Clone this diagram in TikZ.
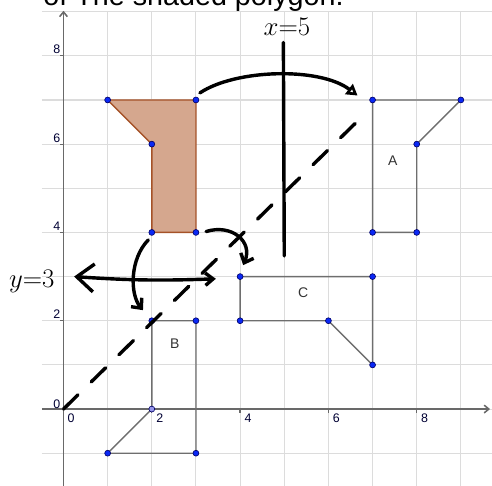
\documentclass[tikz,border=0pt]{standalone}
\usepackage{fontspec}
\setsansfont{Liberation Sans}
\usetikzlibrary{arrows.meta}
\definecolor{gridc}{RGB}{220,220,220}
\definecolor{axisc}{RGB}{105,105,105}
\definecolor{edge}{RGB}{110,110,110}
\definecolor{shadefill}{RGB}{213,167,142}
\definecolor{shadeedge}{RGB}{165,82,40}
\definecolor{dotc}{RGB}{10,40,245}
\definecolor{dotpale}{RGB}{150,150,235}
\definecolor{ink}{RGB}{0,0,0}

\begin{document}
\begin{tikzpicture}[font=\sffamily,
  pt/.style={circle, fill=dotc, draw=black!60!blue, line width=0.4pt, inner sep=0pt, minimum size=3.8pt},
  poly/.style={edge, line width=0.9pt, line join=round},
  hand/.style={ink, line width=2.2pt, line cap=round, line join=round},
  ticklab/.style={font=\sffamily\fontsize{8}{9}\selectfont, text=black!80!blue, inner sep=1pt},
  letter/.style={font=\sffamily\fontsize{9}{10}\selectfont, text=black!80}]
\useasboundingbox (-1.438,-1.721) rectangle (9.705,9.264);
\clip (-1.438,-1.721) rectangle (9.705,9.264);
% worksheet line, cut off at the top
\node[anchor=base west, inner sep=0pt, font=\sffamily\fontsize{18.5}{20}\selectfont] (title) at (-0.46,9.13) {of The shaded polygon.};
% grid
\foreach \x in {1,...,9} \draw[gridc, line width=0.7pt] (\x,-1.8) -- (\x,9);
\foreach \y in {-1,...,9} \draw[gridc, line width=0.7pt] (-0.49,\y) -- (9.8,\y);
% axes
\draw[axisc, line width=1pt, -{Straight Barb[length=3pt,width=5pt]}] (-0.49,0) -- (9.66,0);
\draw[axisc, line width=1pt, -{Straight Barb[length=3pt,width=5pt]}] (0,-1.8) -- (0,9.02);
\foreach \v in {2,4,6,8} {
  \draw[axisc, line width=0.8pt] (\v,0) -- (\v,-0.08);
  \draw[axisc, line width=0.8pt] (0,\v) -- (-0.08,\v);
  \node[ticklab] (xl\v) at (\v+0.18,-0.2) {\v};
  \node[ticklab] (yl\v) at (-0.15,\v+0.14) {\v};
}
\node[ticklab] (xl0) at (0.17,-0.2) {0};
\node[ticklab] (yl0) at (-0.15,0.11) {0};
% vertices: shaded / A / B / C
\foreach \n/\p in {s1/{1,7}, s2/{3,7}, s3/{3,4}, s4/{2,4}, s5/{2,6},
  a1/{7,7}, a2/{9,7}, a3/{8,6}, a4/{8,4}, a5/{7,4},
  b1/{2,2}, b2/{3,2}, b3/{3,-1}, b4/{1,-1}, b5/{2,0},
  c1/{4,3}, c2/{7,3}, c3/{7,1}, c4/{6,2}, c5/{4,2}}
  \coordinate (\n) at (\p);
\fill[shadefill] (s1) -- (s2) -- (s3) -- (s4) -- (s5) -- cycle;
\draw[shadeedge, line width=0.9pt, line join=round] (s1) -- (s2) -- (s3) -- (s4) -- (s5) -- cycle;
\draw[poly] (a1) -- (a2) -- (a3) -- (a4) -- (a5) -- cycle;
\draw[poly] (b1) -- (b2) -- (b3) -- (b4) -- (b5) -- cycle;
\draw[poly] (c1) -- (c2) -- (c3) -- (c4) -- (c5) -- cycle;
\node[letter] (labA) at (7.46,5.62) {A};
\node[letter] (labB) at (2.52,1.47) {B};
\node[letter] (labC) at (5.43,2.63) {C};
\foreach \n in {s1,s2,s3,s4,s5,a1,a2,a3,a4,a5,b1,b2,b3,b4,c1,c2,c3,c4,c5}
  \node[pt] at (\n) {};
\node[pt, fill=dotpale] at (b5) {};
% hand-drawn lines of reflection
\coordinate (o) at (0,0);
\coordinate (diag) at (6.72,6.58);
\draw[hand, dash pattern=on 13pt off 12pt] (o) -- (diag);
\coordinate (mTop) at (4.98,8.3);
\coordinate (mBot) at (5.0,3.47);
\draw[hand] (mTop) -- (mBot);
\node[font=\fontsize{18}{20}\selectfont, anchor=base, inner sep=0pt] (lx) at (5.06,8.45) {$x{=}5$};
\coordinate (yL) at (0.24,3.0);
\coordinate (yR) at (3.45,2.95);
\draw[hand, {Straight Barb[length=11pt,width=18pt]}-{Straight Barb[length=5pt,width=8pt]}] (yL) to[bend right=3] (yR);
\node[font=\fontsize{17}{19}\selectfont, anchor=base, inner sep=0pt] (ly) at (-0.72,2.76) {$y{=}3$};
% hand-drawn arrows to the images
\coordinate (rA0) at (3.09,7.16);
\coordinate (rA1) at (6.66,7.1);
\draw[hand, -{Triangle[open,length=7pt,width=8pt]}] (rA0) .. controls (3.9,7.7) and (5.8,7.75) .. (rA1);
\coordinate (rB0) at (1.92,3.83);
\coordinate (rB1) at (1.8,2.24);
\draw[hand, -{Straight Barb[length=5pt,width=9pt]}] (rB0) .. controls (1.5,3.4) and (1.5,2.6) .. (rB1);
\coordinate (rC0) at (3.23,4.02);
\coordinate (rC1) at (4.07,3.26);
\draw[hand, -{Straight Barb[length=5pt,width=9pt]}] (rC0) .. controls (3.8,4.2) and (4.3,3.8) .. (rC1);
\end{tikzpicture}
\end{document}
